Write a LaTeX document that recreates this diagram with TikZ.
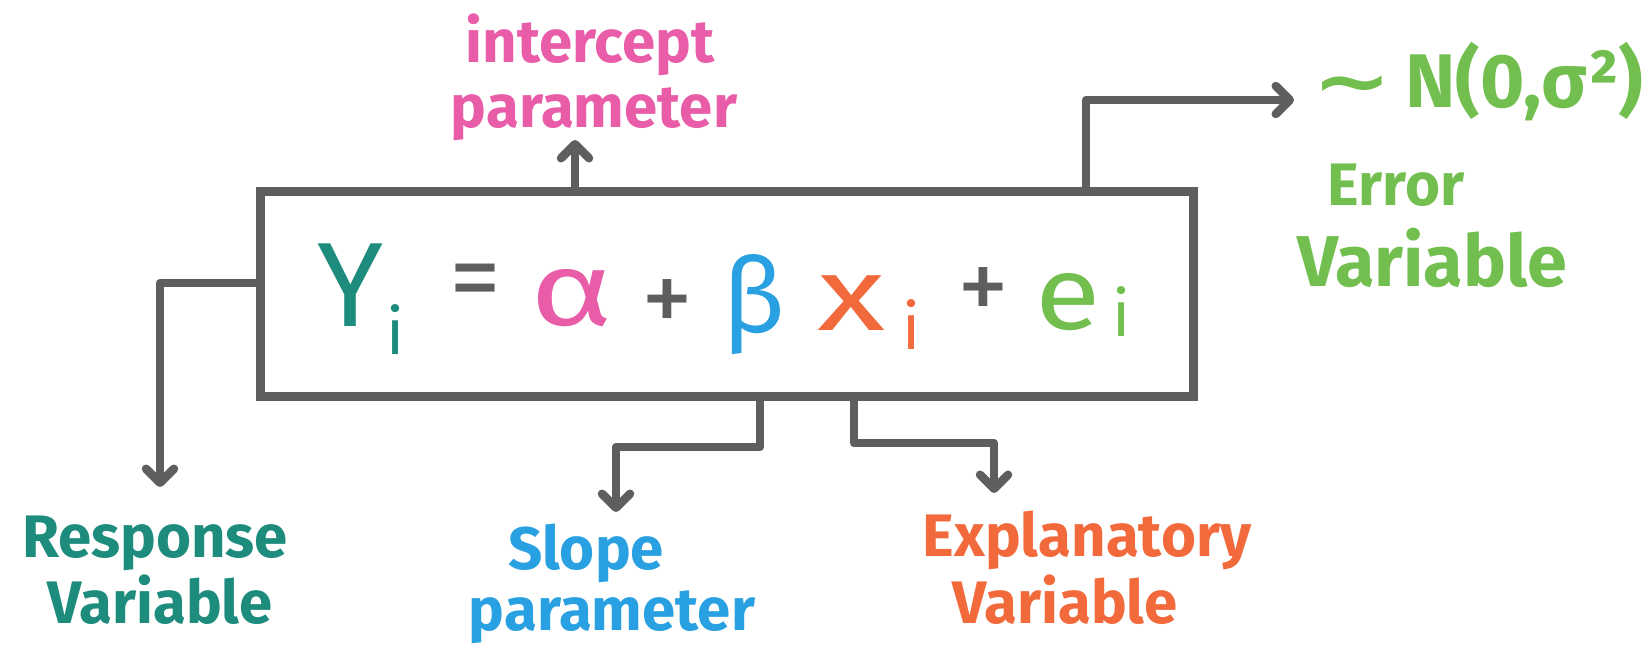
\documentclass[tikz,border=0pt]{standalone}
\usepackage{fontspec}
\setmainfont{Fira Sans}
\newfontfamily\dvfont{DejaVu Sans}
\usetikzlibrary{arrows.meta}
\definecolor{cteal}{RGB}{30,140,125}
\definecolor{cpink}{RGB}{233,92,168}
\definecolor{cblue}{RGB}{40,160,225}
\definecolor{corange}{RGB}{242,106,59}
\definecolor{cgreen}{RGB}{114,191,79}
\definecolor{cgray}{RGB}{94,94,94}
\begin{document}
\begin{tikzpicture}[x=0.5pt,y=-0.5pt,
  conn/.style={draw=cgray, line width=4.25pt, line cap=round, line join=round,
    -{Straight Barb[length=7pt,width=14pt,round]}},
  lbl/.style={font=\fontsize{30}{34}\selectfont\bfseries, inner sep=0pt},
  biglbl/.style={font=\fontsize{36}{40}\selectfont\bfseries, inner sep=0pt},
  sym/.style={font=\fontsize{52}{56}\selectfont, inner sep=0pt},
  sub/.style={font=\fontsize{32}{36}\selectfont, inner sep=0pt}]
\useasboundingbox (0,0) rectangle (1647,657);
% box
\node[draw=cgray, line width=4.5pt, minimum width=466.5pt, minimum height=102pt, inner sep=0pt] (eq) at (726.5,294) {};
% equation
\node[sym, text=cteal, font=\fontsize{60}{64}\selectfont] (Y) at (350,285) {Y};
\node[sub, text=cteal] (Yi) at (396,330) {i};
\node[sym, text=cgray] (eqs) at (475,288) {=};
\node[sym, text=cpink] (al) at (572,298) {\scalebox{1.35}[1]{α}};
\node[sym, text=cgray] (p1) at (667,307) {+};
\node[sym, text=cblue] (be) at (754,305) {β};
\node[sym, text=corange] (xx) at (852,303) {\scalebox{1.35}[1]{x}};
\node[sub, text=corange] (xi) at (912,325) {i};
\node[sym, text=cgray] (p2) at (983,295) {+};
\node[sym, text=cgreen] (ee) at (1068,302) {\scalebox{1.15}[1]{e}};
\node[sub, text=cgreen] (ei) at (1122,312) {i};
% labels
\node[lbl, text=cpink] (int1) at (590,45) {intercept};
\node[lbl, text=cpink] (int2) at (594,114) {parameter};
\node[biglbl, text=cgreen, font=\fontsize{38}{42}\selectfont\bfseries] (err0) at (1478,82) {{\dvfont\bfseries\scalebox{1.25}[1]{∼}}\,N(0,σ²)};
\node[lbl, text=cgreen] (err1) at (1396,185) {Error};
\node[biglbl, text=cgreen] (err2) at (1432,258) {Variable};
\node[lbl, text=cteal] (res1) at (155,543) {Response};
\node[lbl, text=cteal] (res2) at (160,600) {Variable};
\node[lbl, text=cblue] (slo1) at (586,553) {Slope};
\node[lbl, text=cblue] (slo2) at (612,617) {parameter};
\node[lbl, text=corange] (exp1) at (1087,540) {Explanatory};
\node[lbl, text=corange] (exp2) at (1065,600) {Variable};
% connector ends
\coordinate (intTip) at (575,140);
\coordinate (errA) at (1086,100);
\coordinate (errTip) at (1294,100);
\coordinate (resA) at (260,283);
\coordinate (resTip) at (160,487);
\coordinate (sloA) at (760,447);
\coordinate (sloTip) at (616,512);
\coordinate (expA) at (854,443);
\coordinate (expTip) at (994,493);
% connectors
\draw[conn] (eq.north -| intTip) -- (intTip);
\draw[conn] (eq.north -| errA) -- (errA) -- (errTip);
\draw[conn] (eq.west |- resA) -| (resTip);
\draw[conn] (eq.south -| sloA) -- (sloA) -| (sloTip);
\draw[conn] (eq.south -| expA) -- (expA) -| (expTip);
\end{tikzpicture}
\end{document}
